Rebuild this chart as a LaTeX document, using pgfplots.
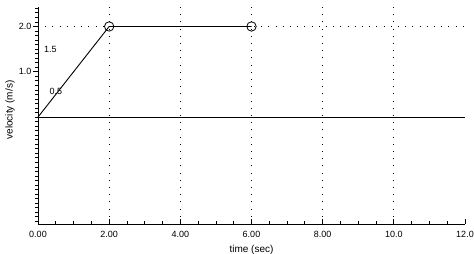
\documentclass[border=0pt]{standalone}
\usepackage{pgfplots}
\pgfplotsset{compat=1.18}
\usepackage{fontspec}
\setmainfont{Liberation Sans}
\begin{document}
\begin{tikzpicture}[font=\fontsize{9}{10.8}\selectfont]
\begin{axis}[
  scale only axis, width=427pt, height=217pt,
  xmin=0, xmax=12, ymin=-2.36, ymax=2.43,
  axis x line=bottom, axis y line=left,
  axis line style={-, line width=0.8pt, black},
  xtick={0,2,4,6,8,10,12},
  xticklabels={0.00,2.00,4.00,6.00,8.00,10.0,12.0},
  minor x tick num=3,
  ytick={1,2}, yticklabels={1.0,2.0},
  minor ytick={-2.3,-2.2,-2.1,-2,-1.9,-1.8,-1.7,-1.6,-1.5,-1.4,-1.3,-1.2,-1.1,-1,-0.9,-0.8,-0.7,-0.6,-0.5,-0.4,-0.3,-0.2,-0.1,0,0.1,0.2,0.3,0.4,0.5,0.6,0.7,0.8,0.9,1.1,1.2,1.3,1.4,1.5,1.6,1.7,1.8,1.9,2.1,2.2,2.3,2.4},
  xtick align=inside, ytick align=outside,
  major tick length=5pt, minor tick length=3pt,
  tick style={black, line width=0.8pt},
  xticklabel style={yshift=-4pt},
  yticklabel style={xshift=2pt},
  extra x ticks={2,4,6,8,10}, extra x tick labels={},
  extra x tick style={grid=major, major tick length=0pt,
     major grid style={black, line width=0.9pt, dash pattern=on 0.9pt off 6.3pt}},
  extra y ticks={2}, extra y tick labels={},
  extra y tick style={grid=major, major tick length=0pt,
     major grid style={black, line width=0.9pt, dash pattern=on 0.9pt off 6.3pt}},
  xlabel={time (sec)},
  xlabel style={at={(axis description cs:0.5,0)}, anchor=north, yshift=-18pt, font=\fontsize{10}{12}\selectfont},
  ylabel={velocity (m/s)},
  ylabel style={at={(axis description cs:0,0.525)}, anchor=center, yshift=28pt, font=\fontsize{10}{12}\selectfont},
  clip=false,
]
\addplot[black, line width=0.9pt] coordinates {(0,0) (12,0)};
\addplot[black, line width=0.9pt] coordinates {(0,0) (2,2) (6,2)};
\addplot[black, only marks, mark=o, mark size=4.7pt,
  mark options={fill=white, line width=0.8pt}] coordinates {(2,2) (6,2)};
\node at (axis cs:0.35,1.49) {1.5};
\node at (axis cs:0.50,0.56) {0.5};
\end{axis}
\pgfresetboundingbox
\path[use as bounding box] (-38pt,-30pt) rectangle (436pt,224pt);
\end{tikzpicture}
\end{document}
